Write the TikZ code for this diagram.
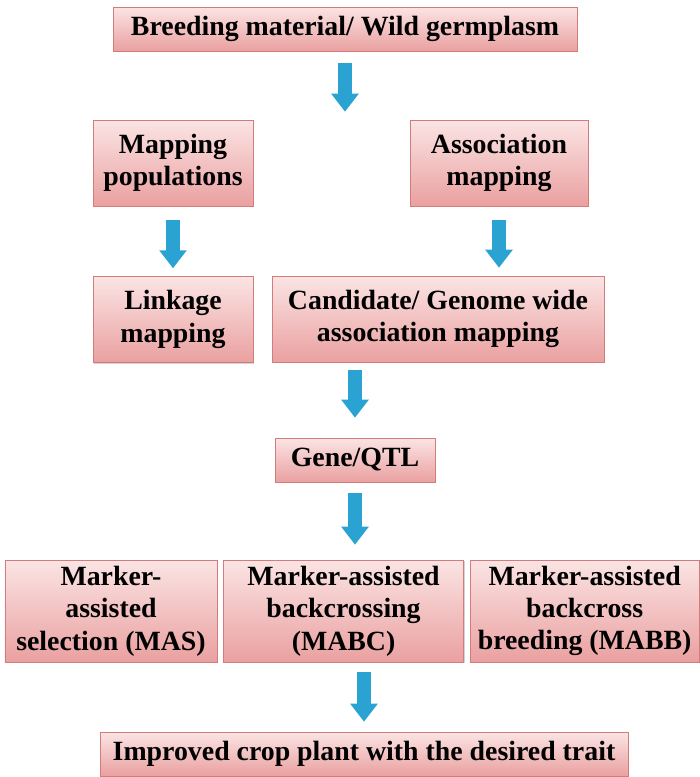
\documentclass[tikz,border=0pt]{standalone}
\usepackage{fontspec}
\setmainfont{Liberation Serif}
\usepackage{xcolor}
\usetikzlibrary{positioning,arrows.meta,shadows}

\definecolor{boxtop}{HTML}{FBE4E4}
\definecolor{boxbot}{HTML}{EAA0A0}
\definecolor{boxline}{HTML}{D27C7C}
\definecolor{arrblue}{HTML}{2AA3D2}

\begin{document}
\begin{tikzpicture}[
  every node/.style={font=\fontsize{19.8}{23}\selectfont\bfseries},
  box/.style={
    draw=boxline, thin, align=center, inner sep=2pt,
    top color=boxtop, bottom color=boxbot, minimum height=2.15cm,
    drop shadow={shadow xshift=0.7pt, shadow yshift=-0.9pt, opacity=0.35},
  },
  flat/.style={box, minimum height=1.1cm},
  tall/.style={box, minimum height=2.55cm},
  arr/.style={-{Triangle[length=4.5mm,width=6.6mm]}, line width=3.4mm, arrblue},
]

\useasboundingbox (0,0) rectangle (17.5,-19.425);

\node[flat, minimum width=11.6cm] (breeding) at (8.625,-0.725) {Breeding material/ Wild germplasm};

\node[box, minimum width=4cm] (mappop) at (4.325,-4.075) {Mapping\\populations};
\node[box, minimum width=4.45cm] (assoc) at (12.475,-4.075) {Association\\mapping};

\node[box, minimum width=4cm, below=1.75cm of mappop] (linkage) {Linkage\\mapping};
\node[box, minimum width=8.3cm] (gwas) at (10.95,-7.975) {Candidate/ Genome wide\\association mapping};

\node[flat, minimum width=4cm] (gene) at (8.875,-11.5) {Gene/QTL};

\node[tall, minimum width=5.3cm] (mas) at (2.775,-15.275) {Marker-\\assisted\\selection (MAS)};
\node[tall, minimum width=6cm, right=0.15cm of mas] (mabc) {Marker-assisted\\backcrossing\\(MABC)};
\node[tall, minimum width=5.725cm, right=0.15cm of mabc] (mabb) {Marker-assisted\\backcross\\breeding (MABB)};

\node[flat, minimum width=13.2cm] (improved) at (9.1,-18.85) {Improved crop plant with the desired trait};

% block arrows
\draw[arr, shorten <=0.3cm, shorten >=0.2cm] (breeding.south) -- (breeding.south |- mappop.north);
\draw[arr, shorten <=0.35cm, shorten >=0.2cm] (mappop) -- (linkage);
\draw[arr, shorten <=0.35cm, shorten >=0.2cm] (assoc.south) -- (assoc.south |- gwas.north);
\draw[arr, shorten <=0.2cm, shorten >=0.5cm] (gene.north |- gwas.south) -- (gene.north);
\draw[arr, shorten <=0.275cm, shorten >=0.375cm] (gene.south) -- (gene.south |- mabc.north);
\draw[arr, shorten <=0.25cm, shorten >=0.25cm] (improved.north |- mabc.south) -- (improved.north);

\end{tikzpicture}
\end{document}
